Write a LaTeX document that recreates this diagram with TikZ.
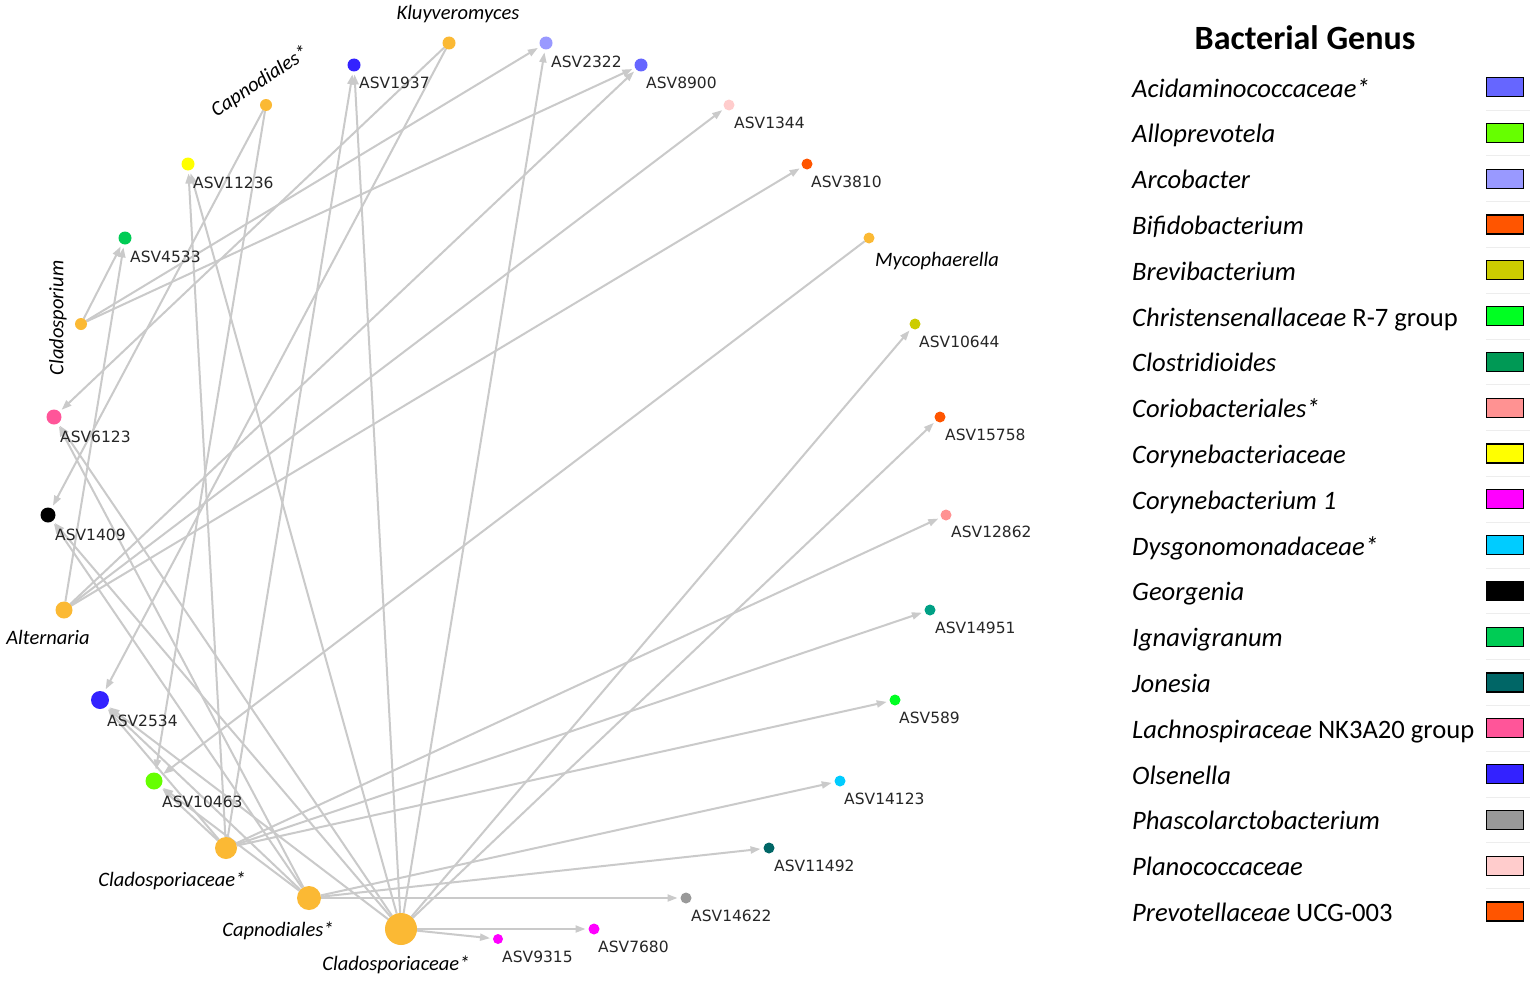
\documentclass[tikz,border=0pt]{standalone}
\usepackage{fontspec}
\setmainfont{Carlito}
\newfontfamily\asvfont{DejaVu Sans}
\usetikzlibrary{arrows.meta}
\pgfdeclarelayer{back}
\pgfdeclarelayer{bg}
\pgfsetlayers{back,bg,main}
\definecolor{fung}{HTML}{FBB934}
\definecolor{edgec}{HTML}{CACACA}
\definecolor{cAcid}{HTML}{6666FF}
\definecolor{cAllo}{HTML}{66FF00}
\definecolor{cArco}{HTML}{9999FF}
\definecolor{cBifi}{HTML}{FF5500}
\definecolor{cBrev}{HTML}{CCCC00}
\definecolor{cChri}{HTML}{00FF22}
\definecolor{cClos}{HTML}{009955}
\definecolor{cClosN}{HTML}{00A085}
\definecolor{cCori}{HTML}{FF9292}
\definecolor{cCoac}{HTML}{FFFF00}
\definecolor{cCory}{HTML}{FF00FF}
\definecolor{cDysg}{HTML}{00CCFF}
\definecolor{cGeor}{HTML}{000000}
\definecolor{cIgna}{HTML}{00CC55}
\definecolor{cJone}{HTML}{006666}
\definecolor{cLach}{HTML}{FF5599}
\definecolor{cOlse}{HTML}{3322FF}
\definecolor{cPhas}{HTML}{999999}
\definecolor{cPlan}{HTML}{FFCCCC}
\definecolor{cPrev}{HTML}{FF5500}
\begin{document}
\begin{tikzpicture}[x=1pt,y=-1pt,
  dot/.style={circle,inner sep=0pt,outer sep=0pt,draw=none,minimum size=#1},
  fdot/.style={dot=#1,fill=fung},
  asvlab/.style={anchor=west,inner sep=0pt,text=black!85,font=\asvfont\fontsize{15.5}{16}\selectfont},
  flab/.style={inner sep=0pt,text=black,font=\itshape\fontsize{20.5}{21}\selectfont},
  lnk/.style={draw=edgec,line width=2pt,-{Triangle[length=10pt,width=7pt]},shorten >=3pt},
  legbox/.style={draw=black,line width=1.2pt,minimum width=37pt,minimum height=19pt,inner sep=0pt},
  legtxt/.style={anchor=base west,inner sep=0pt,font=\fontsize{26.6}{28}\selectfont},
  sep/.style={draw=black!7,line width=1pt}]
\begin{pgfonlayer}{back}
\fill[white] (0,0) rectangle (1536,982);
\end{pgfonlayer}
\useasboundingbox (0,0) rectangle (1536,982);

% fungal nodes
\node[fdot=13] (kluy) at (449,43) {};
\node[fdot=12] (capt) at (266,105) {};
\node[fdot=12] (clads) at (81,324) {};
\node[fdot=11] (myco) at (869,238) {};
\node[fdot=17] (alte) at (64,610) {};
\node[fdot=22] (cmid) at (226,848) {};
\node[fdot=24] (capb) at (309,898) {};
\node[fdot=32] (cbig) at (401,929) {};

% fungal labels
\node[flab] (lkluy) at (458,14) {Kluyveromyces};
\node[flab,rotate=33] (lcapt) at (260,82) {Capnodiales*};
\node[flab,rotate=90] (lclads) at (58,318) {Cladosporium};
\node[flab] (lmyco) at (937,261) {Mycophaerella};
\node[flab] (lalte) at (48,637) {Alternaria};
\node[flab] (lcmid) at (172,881) {Cladosporiaceae*};
\node[flab] (lcapb) at (278,931) {Capnodiales*};
\node[flab] (lcbig) at (396,965) {Cladosporiaceae*};

% bacterial nodes
\node[dot=13,fill=cOlse] (b1937) at (354,65) {};
\node[dot=13,fill=cArco] (b2322) at (546,43) {};
\node[dot=13,fill=cAcid] (b8900) at (641,65) {};
\node[dot=11,fill=cPlan] (b1344) at (729,105) {};
\node[dot=11,fill=cBifi] (b3810) at (807,164) {};
\node[dot=11,fill=cBrev] (b10644) at (915,324) {};
\node[dot=11,fill=cPrev] (b15758) at (940,417) {};
\node[dot=11,fill=cCori] (b12862) at (946,515) {};
\node[dot=11,fill=cClosN] (b14951) at (930,610) {};
\node[dot=11,fill=cChri] (b589) at (895,700) {};
\node[dot=11,fill=cDysg] (b14123) at (840,781) {};
\node[dot=11,fill=cJone] (b11492) at (769,848) {};
\node[dot=11,fill=cPhas] (b14622) at (686,898) {};
\node[dot=11,fill=cCory] (b7680) at (594,929) {};
\node[dot=10,fill=cCory] (b9315) at (498,939) {};
\node[dot=13,fill=cCoac] (b11236) at (188,164) {};
\node[dot=13,fill=cIgna] (b4533) at (125,238) {};
\node[dot=15,fill=cLach] (b6123) at (54,417) {};
\node[dot=15,fill=cGeor] (b1409) at (48,515) {};
\node[dot=18,fill=cOlse] (b2534) at (100,700) {};
\node[dot=17,fill=cAllo] (b10463) at (154,781) {};

% bacterial labels
\node[asvlab] (l1937) at (359,83) {ASV1937};
\node[asvlab] (l2322) at (551,62) {ASV2322};
\node[asvlab] (l8900) at (646,83) {ASV8900};
\node[asvlab] (l1344) at (734,123) {ASV1344};
\node[asvlab] (l3810) at (811,182) {ASV3810};
\node[asvlab] (l10644) at (919,342) {ASV10644};
\node[asvlab] (l15758) at (945,435) {ASV15758};
\node[asvlab] (l12862) at (951,532) {ASV12862};
\node[asvlab] (l14951) at (935,628) {ASV14951};
\node[asvlab] (l589) at (899,718) {ASV589};
\node[asvlab] (l14123) at (844,799) {ASV14123};
\node[asvlab] (l11492) at (774,866) {ASV11492};
\node[asvlab] (l14622) at (691,916) {ASV14622};
\node[asvlab] (l7680) at (598,947) {ASV7680};
\node[asvlab] (l9315) at (502,957) {ASV9315};
\node[asvlab] (l11236) at (193,183) {ASV11236};
\node[asvlab] (l4533) at (130,257) {ASV4533};
\node[asvlab] (l6123) at (60,437) {ASV6123};
\node[asvlab] (l1409) at (55,535) {ASV1409};
\node[asvlab] (l2534) at (107,721) {ASV2534};
\node[asvlab] (l10463) at (162,802) {ASV10463};

% edges
\begin{pgfonlayer}{bg}
\foreach \s/\t in {kluy/b6123,kluy/b2534,capt/b1409,capt/b10463,
  clads/b4533,clads/b2322,clads/b8900,
  alte/b4533,alte/b8900,alte/b1344,alte/b3810,myco/b10463,
  cmid/b2534,cmid/b10463,cmid/b11236,cmid/b1937,cmid/b12862,cmid/b14951,cmid/b589,
  capb/b6123,capb/b1409,capb/b2534,capb/b10463,capb/b14123,capb/b11492,capb/b14622,
  cbig/b6123,cbig/b1409,cbig/b2534,cbig/b11236,cbig/b1937,cbig/b2322,cbig/b10644,cbig/b15758,cbig/b9315,cbig/b7680}
  \draw[lnk] (\s) -- (\t);
\end{pgfonlayer}

% legend
\node[anchor=base,inner sep=0pt,font=\bfseries\fontsize{34}{36}\selectfont] (legtitle) at (1305,50) {Bacterial Genus};
\foreach \i/\c/\txt in {
  0/cAcid/{\textit{Acidaminococcaceae*}},
  1/cAllo/{\textit{Alloprevotela}},
  2/cArco/{\textit{Arcobacter}},
  3/cBifi/{\textit{Bifidobacterium}},
  4/cBrev/{\textit{Brevibacterium}},
  5/cChri/{\textit{Christensenallaceae} R-7 group},
  6/cClos/{\textit{Clostridioides}},
  7/cCori/{\textit{Coriobacteriales*}},
  8/cCoac/{\textit{Corynebacteriaceae}},
  9/cCory/{\textit{Corynebacterium 1}},
  10/cDysg/{\textit{Dysgonomonadaceae*}},
  11/cGeor/{\textit{Georgenia}},
  12/cIgna/{\textit{Ignavigranum}},
  13/cJone/{\textit{Jonesia}},
  14/cLach/{\textit{Lachnospiraceae} NK3A20 group},
  15/cOlse/{\textit{Olsenella}},
  16/cPhas/{\textit{Phascolarctobacterium}},
  17/cPlan/{\textit{Planococcaceae}},
  18/cPrev/{\textit{Prevotellaceae} UCG-003}}
{
  \pgfmathsetmacro{\yy}{87+\i*45.8}
  \node[legbox,fill=\c] (box\i) at (1505,\yy) {};
  \node[legtxt] (txt\i) at (1132,\yy+10) {\txt};
}
\foreach \i in {0,...,17}{
  \pgfmathsetmacro{\ys}{87+\i*45.8+23}
  \draw[sep] (1486,\ys) -- (1530,\ys);
}
\end{tikzpicture}
\end{document}
